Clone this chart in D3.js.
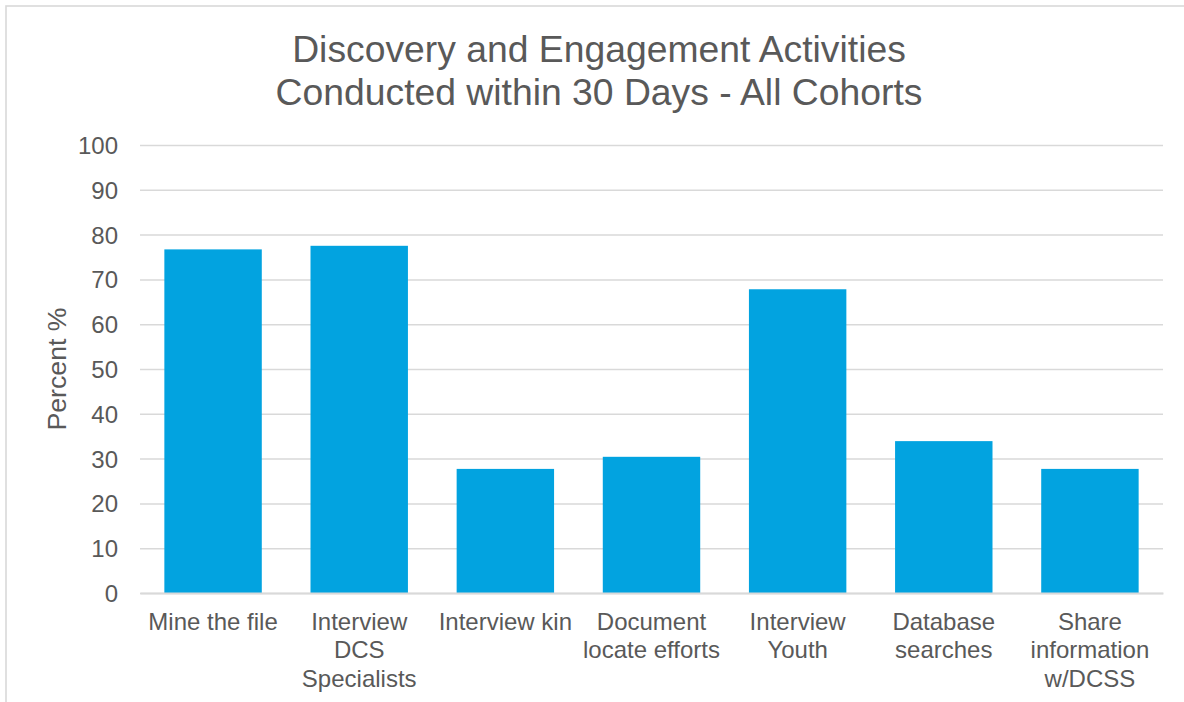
<!DOCTYPE html>
<html>
<head>
<meta charset="utf-8">
<script src="https://cdn.jsdelivr.net/npm/d3@7/dist/d3.min.js"></script>
<style>
  html, body { margin: 0; padding: 0; background: #fff; }
  svg { display: block; font-family: "Liberation Sans", Arial, sans-serif; }
</style>
</head>
<body>
<svg id="chart" width="1184" height="702"></svg>
<script>
// Activity categories (each entry holds the wrapped label lines)
const categories = [
  ["Mine the file"],
  ["Interview", "DCS", "Specialists"],
  ["Interview kin"],
  ["Document", "locate efforts"],
  ["Interview", "Youth"],
  ["Database", "searches"],
  ["Share", "information", "w/DCSS"]
];
// Percent of cases with the activity conducted within 30 days
const percents = [76.7, 77.5, 27.7, 30.4, 67.8, 33.9, 27.7];
const yTicks = [0, 10, 20, 30, 40, 50, 60, 70, 80, 90, 100];
const titleLines = ["Discovery and Engagement Activities", "Conducted within 30 Days - All Cohorts"];
const yTitle = "Percent %";

const svg = d3.select("#chart");
const textColor = "#595959";
const gridColor = "#d9d9d9";
const barColor = "#02a3e0";

// Chart frame border
svg.append("rect")
  .attr("x", 6).attr("y", 6)
  .attr("width", 1200).attr("height", 720)
  .attr("fill", "none")
  .attr("stroke", gridColor)
  .attr("stroke-width", 1.6);

const plot = { left: 140, right: 1163, top: 145, bottom: 593 };

const keys = categories.map((c, i) => i);
const x = d3.scaleBand()
  .domain(keys)
  .range([plot.left, plot.right])
  .paddingInner(1 / 3)
  .paddingOuter(1 / 6);

const y = d3.scaleLinear()
  .domain([0, 100])
  .range([plot.bottom, plot.top]);

// Horizontal gridlines
const yAxis = d3.axisLeft(y)
  .tickValues(yTicks)
  .tickSize(-(plot.right - plot.left))
  .tickPadding(22)
  .tickFormat(d3.format("d"));

const gy = svg.append("g")
  .attr("transform", `translate(${plot.left},0)`)
  .call(yAxis);
gy.select(".domain").remove();
gy.selectAll(".tick line")
  .attr("stroke", gridColor)
  .attr("stroke-width", 1.5);
gy.selectAll(".tick text")
  .attr("fill", textColor)
  .attr("font-size", 24)
  .attr("dy", "0.35em");

// Bars
svg.append("g")
  .selectAll("rect")
  .data(percents)
  .join("rect")
  .attr("x", (d, i) => x(i))
  .attr("y", d => y(d))
  .attr("width", x.bandwidth())
  .attr("height", d => y(0) - y(d))
  .attr("fill", barColor);

// Category axis baseline and labels
const xAxis = d3.axisBottom(x).tickSize(0).tickFormat("");
const gx = svg.append("g")
  .attr("transform", `translate(0,${plot.bottom})`)
  .call(xAxis);
gx.select(".domain")
  .attr("stroke", gridColor)
  .attr("stroke-width", 2);

const labels = svg.append("g")
  .attr("fill", textColor)
  .attr("font-size", 24)
  .attr("text-anchor", "middle");
categories.forEach((lines, i) => {
  const t = labels.append("text")
    .attr("x", x(i) + x.bandwidth() / 2)
    .attr("y", 630);
  lines.forEach((line, j) => {
    t.append("tspan")
      .attr("x", x(i) + x.bandwidth() / 2)
      .attr("dy", j === 0 ? 0 : 28.3)
      .text(line);
  });
});

// Y axis title
svg.append("text")
  .attr("transform", `translate(66,${(plot.top + plot.bottom) / 2}) rotate(-90)`)
  .attr("text-anchor", "middle")
  .attr("fill", textColor)
  .attr("font-size", 26.7)
  .text(yTitle);

// Chart title
const title = svg.append("text")
  .attr("text-anchor", "middle")
  .attr("fill", textColor)
  .attr("font-size", 37.3);
titleLines.forEach((line, j) => {
  title.append("tspan")
    .attr("x", 599)
    .attr("y", 62 + j * 43)
    .text(line);
});
</script>
</body>
</html>
